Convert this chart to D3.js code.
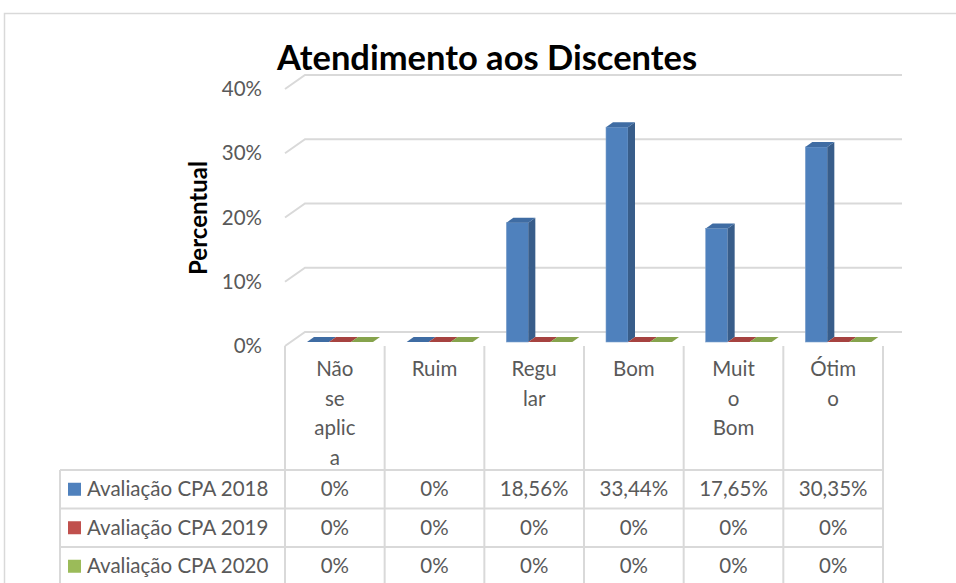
<!DOCTYPE html>
<meta charset="utf-8">
<script src="https://d3js.org/d3.v7.min.js"></script>
<style>
  body { margin: 0; background: #fff; }
  text { font-family: Lato, "Open Sans", sans-serif; }
</style>
<div id="my_dataviz"></div>
<script>

  // data
  var categories = ["Não se aplica", "Ruim", "Regular", "Bom", "Muito Bom", "Ótimo"];
  var categoryLines = [["Não", "se", "aplic", "a"], ["Ruim"], ["Regu", "lar"], ["Bom"], ["Muit", "o", "Bom"], ["Ótim", "o"]];
  var seriesNames = ["Avaliação CPA 2018", "Avaliação CPA 2019", "Avaliação CPA 2020"];
  var values2018 = [0, 0, 18.56, 33.44, 17.65, 30.35];
  var values2019 = [0, 0, 0, 0, 0, 0];
  var values2020 = [0, 0, 0, 0, 0, 0];
  var yTicks = [0, 10, 20, 30, 40];

  var seriesValues = [values2018, values2019, values2020];
  var colors = [
    { front: "#4F81BD", side: "#385D8A", top: "#3F6CA3" },
    { front: "#C0504D", side: "#8C3836", top: "#A64340" },
    { front: "#9BBB59", side: "#71893F", top: "#86A34C" }
  ];

  var width = 956, height = 583;
  var fontSize = 20.5;
  var svg = d3.select("#my_dataviz").append("svg")
    .attr("width", width).attr("height", height);

  // outer chart border
  svg.append("rect")
    .attr("x", 4.5).attr("y", 13.5)
    .attr("width", 1000).attr("height", 700)
    .attr("fill", "none").attr("stroke", "#D9D9D9").attr("stroke-width", 1.5);

  // scales
  var x = d3.scaleBand().domain(categories).range([285, 883]);
  var xs = d3.scaleBand().domain(seriesNames).range([22, 88]);
  var y = d3.scaleLinear().domain([0, 40]).range([346, 89]);

  var wallDx = 20, wallDy = -14;   // depth of the 3D floor / back wall
  var barDx = 0, barDy = -4;       // where bars sit in depth
  var topDx = 7, topDy = -5;       // bar depth

  // gridlines (back wall + left diagonal)
  var grid = svg.append("g");
  yTicks.forEach(function (t) {
    grid.append("path")
      .attr("d", "M" + x.range()[0] + "," + y(t) +
        "L" + (x.range()[0] + wallDx) + "," + (y(t) + wallDy) +
        "L902," + (y(t) + wallDy))
      .attr("fill", "none").attr("stroke", "#D9D9D9").attr("stroke-width", 2);
  });

  // y tick labels
  svg.append("g").selectAll("text")
    .data(yTicks).enter().append("text")
    .attr("x", 262).attr("y", function (d) { return y(d); })
    .attr("dy", "0.35em")
    .attr("text-anchor", "end")
    .attr("font-size", fontSize).attr("fill", "#595959")
    .text(function (d) { return d + "%"; });

  // bars
  var bars = svg.append("g");
  categories.forEach(function (c, ci) {
    seriesNames.forEach(function (s, si) {
      var v = seriesValues[si][ci];
      var x0 = x(c) + xs(s) + barDx, w = xs.bandwidth();
      var y0 = y(0) + barDy, y1 = y(v) + barDy;
      var col = colors[si];
      if (v > 0) {
        bars.append("rect")
          .attr("x", x0).attr("y", y1).attr("width", w).attr("height", y0 - y1)
          .attr("fill", col.front).attr("stroke", "#7EA1CC").attr("stroke-width", 0.6);
        bars.append("path")
          .attr("d", "M" + (x0 + w) + "," + y1 + "L" + (x0 + w + topDx) + "," + (y1 + topDy) +
            "L" + (x0 + w + topDx) + "," + (y0 + topDy) + "L" + (x0 + w) + "," + y0 + "Z")
          .attr("fill", col.side);
      }
      bars.append("path")
        .attr("d", "M" + x0 + "," + y1 + "L" + (x0 + w) + "," + y1 +
          "L" + (x0 + w + topDx) + "," + (y1 + topDy) + "L" + (x0 + topDx) + "," + (y1 + topDy) + "Z")
        .attr("fill", col.top);
    });
  });

  // title
  svg.append("text")
    .attr("x", 487).attr("y", 70)
    .attr("text-anchor", "middle")
    .attr("font-size", 34.5).attr("font-weight", "bold").attr("fill", "#000")
    .text("Atendimento aos Discentes");

  // y axis title
  svg.append("text")
    .attr("transform", "translate(207,218) rotate(-90)")
    .attr("text-anchor", "middle")
    .attr("font-size", 24).attr("font-weight", "bold").attr("fill", "#000")
    .text("Percentual");

  // data table
  var table = svg.append("g");
  var rowTop = 470, rowH = 38.5, tableLeft = 60, tableRight = x.range()[1];
  var lineColor = "#D9D9D9";

  // vertical dividers through the category-label area and table
  var edges = categories.map(function (c) { return x(c); }).concat([tableRight]);
  edges.forEach(function (ex) {
    table.append("line")
      .attr("x1", ex).attr("x2", ex).attr("y1", 346).attr("y2", height + 5)
      .attr("stroke", lineColor).attr("stroke-width", 2);
  });
  table.append("line")
    .attr("x1", tableLeft).attr("x2", tableLeft).attr("y1", rowTop).attr("y2", height + 5)
    .attr("stroke", lineColor).attr("stroke-width", 2);
  for (var r = 0; r <= 3; r++) {
    table.append("line")
      .attr("x1", tableLeft).attr("x2", tableRight)
      .attr("y1", rowTop + r * rowH).attr("y2", rowTop + r * rowH)
      .attr("stroke", lineColor).attr("stroke-width", 2);
  }

  // category labels (wrapped like the original)
  categories.forEach(function (c, ci) {
    var t = table.append("text")
      .attr("text-anchor", "middle")
      .attr("font-size", fontSize).attr("fill", "#595959");
    categoryLines[ci].forEach(function (ln, li) {
      t.append("tspan")
        .attr("x", x(c) + x.bandwidth() / 2)
        .attr("y", 369 + li * 29.5)
        .attr("dy", "0.35em")
        .text(ln);
    });
  });

  function fmt(v) {
    return v === 0 ? "0%" : v.toFixed(2).replace(".", ",") + "%";
  }

  seriesNames.forEach(function (s, si) {
    var cy = rowTop + si * rowH + rowH / 2;
    table.append("rect")
      .attr("x", 68).attr("y", cy - 6.5).attr("width", 13).attr("height", 13)
      .attr("fill", colors[si].front);
    table.append("text")
      .attr("x", 87).attr("y", cy).attr("dy", "0.35em")
      .attr("font-size", fontSize).attr("fill", "#595959")
      .text(s);
    categories.forEach(function (c, ci) {
      table.append("text")
        .attr("x", x(c) + x.bandwidth() / 2).attr("y", cy).attr("dy", "0.35em")
        .attr("text-anchor", "middle")
        .attr("font-size", fontSize).attr("fill", "#595959")
        .text(fmt(seriesValues[si][ci]));
    });
  });

</script>
